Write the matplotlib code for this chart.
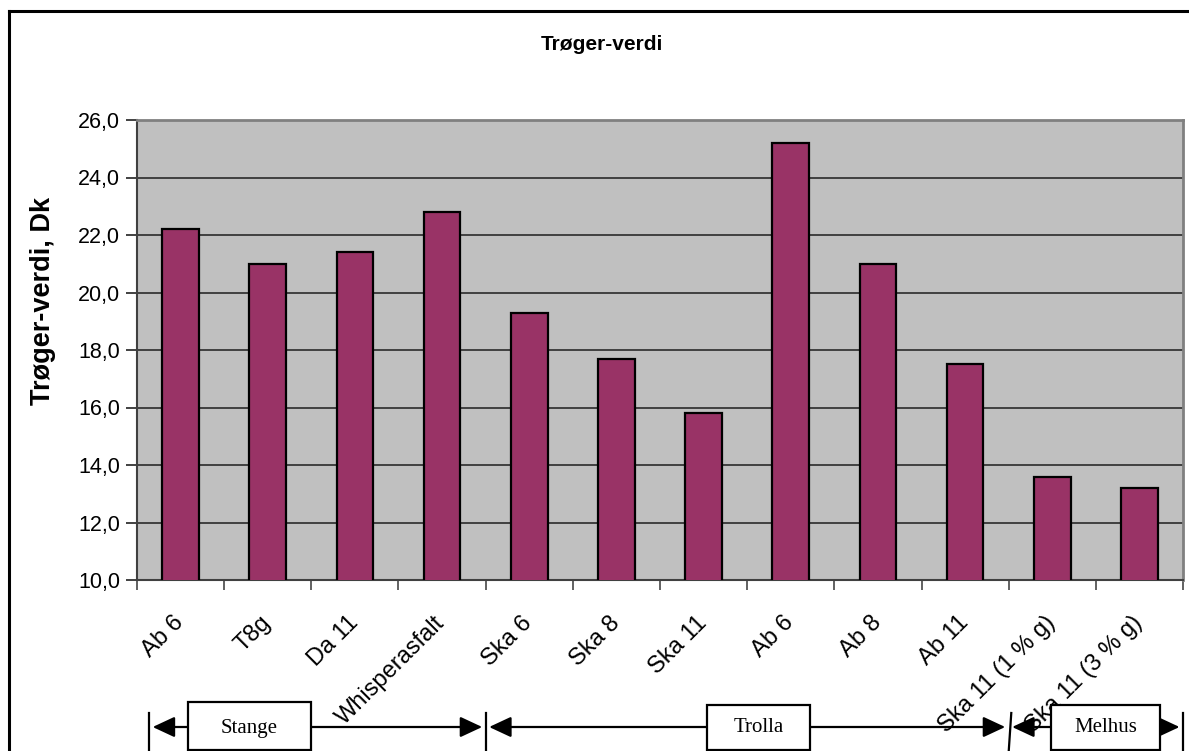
import matplotlib
matplotlib.use("Agg")
import matplotlib.pyplot as plt
import matplotlib.transforms as mtransforms
from matplotlib.ticker import FuncFormatter, FixedLocator
from matplotlib.patches import Rectangle, FancyArrowPatch
from matplotlib.lines import Line2D

# ---- data ---------------------------------------------------------------
categories = ["Ab 6", "T8g", "Da 11", "Whisperasfalt", "Ska 6", "Ska 8",
              "Ska 11", "Ab 6", "Ab 8", "Ab 11", "Ska 11 (1 % g)",
              "Ska 11 (3 % g)"]
values = [22.2, 21.0, 21.4, 22.8, 19.3, 17.7, 15.8, 25.2, 21.0, 17.5, 13.6, 13.2]
groups = ["Stange", "Trolla", "Melhus"]
group_sizes = [4, 6, 2]
y_ticks = [10, 12, 14, 16, 18, 20, 22, 24, 26]

title = "Trøger-verdi"
y_label = "Trøger-verdi, Dk"

# ---- figure -------------------------------------------------------------
W, H = 1189, 751
plt.rcParams["font.family"] = ["Liberation Sans", "DejaVu Sans"]
fig = plt.figure(figsize=(W / 100, H / 100), dpi=100)
fig.patch.set_facecolor("white")


def fy(y):
    return 1 - y / H


ax = fig.add_axes([137 / W, fy(580), 1046 / W, 460 / H])
ax.set_facecolor("#C0C0C0")

x = list(range(len(categories)))
ax.bar(x, values, width=0.42, color="#993366", edgecolor="black",
       linewidth=1.6, zorder=3)

ax.set_xlim(-0.5, len(categories) - 0.5)
ax.set_ylim(y_ticks[0], y_ticks[-1])
ax.set_yticks(y_ticks)
ax.yaxis.set_major_formatter(FuncFormatter(lambda v, p: f"{v:.1f}".replace(".", ",")))
ax.yaxis.grid(True, color="#2a2a2a", linewidth=1.2, zorder=1)
ax.set_axisbelow(True)

# category labels at bar centres, tick marks at category borders
ax.set_xticks(x)
ax.set_xticklabels(categories, rotation=45, ha="right", va="top",
                   rotation_mode="anchor", fontsize=17)
ax.xaxis.set_minor_locator(FixedLocator([i - 0.5 for i in range(len(categories) + 1)]))
ax.tick_params(axis="x", which="major", length=0, pad=23)
ax.tick_params(axis="x", which="minor", length=7, width=1.3, color="#555555")
ax.tick_params(axis="y", length=8, width=1.3, color="#333333", labelsize=15.5, pad=4)
shift = mtransforms.ScaledTranslation(-8 / 100, 0, fig.dpi_scale_trans)
for lab in ax.get_xticklabels():
    lab.set_transform(lab.get_transform() + shift)

for side in ("top", "right"):
    ax.spines[side].set_color("#808080")
    ax.spines[side].set_linewidth(2)
ax.spines["left"].set_color("#404040")
ax.spines["left"].set_linewidth(1.5)
ax.spines["bottom"].set_color("#404040")
ax.spines["bottom"].set_linewidth(1.5)

fig.text(602 / W, fy(45), title, ha="center", va="center",
         fontsize=15, fontweight="bold")
ax.set_ylabel(y_label, fontsize=19.5, fontweight="bold")
ax.yaxis.set_label_coords(-0.077, 0.607)

# ---- outer frame ---------------------------------------------------------
fig.add_artist(Line2D([9 / W, 1.0], [fy(11), fy(11)], color="black", lw=2.2))
fig.add_artist(Line2D([9 / W, 9 / W], [fy(11), 0], color="black", lw=2.2))

# ---- site brackets below the category labels -----------------------------
bt = mtransforms.blended_transform_factory(ax.transData, fig.transFigure)
bounds = [-0.5]
for n in group_sizes:
    bounds.append(bounds[-1] + n)
bounds[0] += 0.14

y_arrow = fy(727)
for b in bounds:
    top = b + (0.03 if b == bounds[2] else 0)
    fig.add_artist(Line2D([top, b], [fy(713), fy(752)], color="black",
                          lw=1.6, transform=bt))

box_left = [0.08, 6.04, 9.99]
box_right = [1.50, 7.22, 11.24]
box_top = [702, 705, 705]
gap = 0.04
for i, name in enumerate(groups):
    l, r = box_left[i], box_right[i]
    fig.add_artist(Rectangle((l, fy(750)), r - l, fy(box_top[i]) - fy(750),
                             facecolor="white", edgecolor="black", lw=1.6,
                             transform=bt, zorder=4))
    fig.text((l + r) / 2, fy(728), name, transform=bt, ha="center",
             va="center", fontsize=15, family=["Liberation Serif", "DejaVu Serif"],
             zorder=5)
    style = "-|>,head_length=0.75,head_width=0.35"
    fig.add_artist(FancyArrowPatch((l, y_arrow), (bounds[i] + gap, y_arrow),
                                   transform=bt, arrowstyle=style,
                                   mutation_scale=18, color="black", lw=1.6,
                                   shrinkA=0, shrinkB=0))
    fig.add_artist(FancyArrowPatch((r, y_arrow), (bounds[i + 1] - gap, y_arrow),
                                   transform=bt, arrowstyle=style,
                                   mutation_scale=18, color="black", lw=1.6,
                                   shrinkA=0, shrinkB=0))

fig.savefig("out.png", dpi=100)
